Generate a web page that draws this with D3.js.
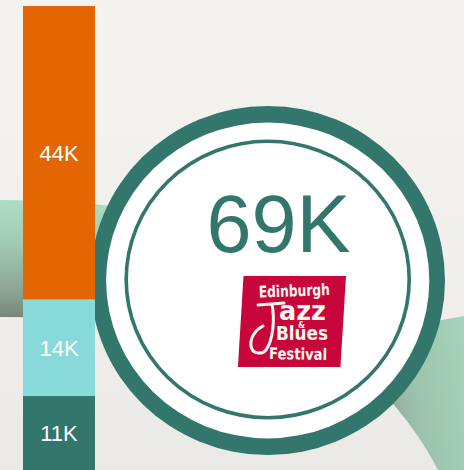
<!DOCTYPE html>
<html>
<head>
<meta charset="utf-8">
<script src="https://cdn.jsdelivr.net/npm/d3@7"></script>
<style>
  html, body { margin: 0; padding: 0; background: #F3F1ED; }
  svg { display: block; }
</style>
</head>
<body>
<div id="chart"></div>
<script>
// ---- data ----
const segments = ["Segment A", "Segment B", "Segment C"];   // bottom to top
const segmentValues = [11.0, 14.4, 43.6];                     // thousands
const segmentLabels = ["11K", "14K", "44K"];
const totalLabel = "69K";
const logoLines = ["Edinburgh", "azz", "&", "Blues", "Festival"];

// ---- styles ----
const segmentColors = ["#32766C", "#88D9DA", "#E36602"];
const teal = "#32766C";
const W = 464, H = 470;

const svg = d3.select("#chart").append("svg")
  .attr("width", W).attr("height", H);

const defs = svg.append("defs");
const bg = defs.append("linearGradient").attr("id", "bg")
  .attr("x1", 0).attr("y1", 0).attr("x2", 0).attr("y2", 1);
bg.append("stop").attr("offset", "0%").attr("stop-color", "#F5F3EF");
bg.append("stop").attr("offset", "60%").attr("stop-color", "#F1EFEB");
bg.append("stop").attr("offset", "100%").attr("stop-color", "#EBE9E6");

const gl = defs.append("linearGradient").attr("id", "bandL")
  .attr("x1", 0).attr("y1", 0).attr("x2", 0).attr("y2", 1);
gl.append("stop").attr("offset", "0%").attr("stop-color", "#AEDCC4");
gl.append("stop").attr("offset", "35%").attr("stop-color", "#A2CBB5");
gl.append("stop").attr("offset", "75%").attr("stop-color", "#8DA697");
gl.append("stop").attr("offset", "100%").attr("stop-color", "#768679");

const gr = defs.append("linearGradient").attr("id", "bandR")
  .attr("x1", 0).attr("y1", 0.3).attr("x2", 1).attr("y2", 0);
gr.append("stop").attr("offset", "0%").attr("stop-color", "#8FA797");
gr.append("stop").attr("offset", "40%").attr("stop-color", "#9CC3AD");
gr.append("stop").attr("offset", "100%").attr("stop-color", "#A6D3BB");

// background
svg.append("rect").attr("width", W).attr("height", H).attr("fill", "url(#bg)");

// decorative green ring behind
svg.append("path")
  .attr("d", "M0,200 L60,201 L112,206 L112,318 L0,317 Z")
  .attr("fill", "url(#bandL)");
svg.append("path")
  .attr("d", "M420,324 Q442,320 464,316 L464,470 L438,470 Q420,435 394,405 L370,380 Z")
  .attr("fill", "url(#bandR)");

// circle badge
const cx = 267.7, cy = 280.5;
svg.append("ellipse").attr("cx", cx).attr("cy", cy)
  .attr("rx", 177.3).attr("ry", 174.5).attr("fill", teal);
svg.append("ellipse").attr("cx", cx).attr("cy", cy)
  .attr("rx", 161.6).attr("ry", 157.9).attr("fill", "#FFFFFF");
svg.append("ellipse").attr("cx", cx).attr("cy", cy - 1)
  .attr("rx", 141.5).attr("ry", 138.2)
  .attr("fill", "none").attr("stroke", teal).attr("stroke-width", 3.6);

// total
svg.append("text")
  .attr("x", 278.5).attr("y", 251.7)
  .attr("text-anchor", "middle")
  .attr("font-family", "'Liberation Sans', Arial, sans-serif")
  .attr("font-size", 81)
  .attr("fill", teal)
  .text(totalLabel);

// logo
const logo = svg.append("g");
logo.append("g").attr("transform", "translate(243.5,276) skewX(-3.5)")
  .append("rect").attr("width", 102.5).attr("height", 91).attr("fill", "#C8063B");
const lf = "'DejaVu Sans Condensed','DejaVu Sans',sans-serif";
function logoText(t, x, y, size, len, rot) {
  logo.append("text")
    .attr("x", x).attr("y", y)
    .attr("font-family", lf).attr("font-weight", "bold")
    .attr("font-size", size)
    .attr("fill", "#FFF8F0")
    .attr("textLength", len).attr("lengthAdjust", "spacingAndGlyphs")
    .attr("transform", `rotate(${rot},${x},${y})`)
    .text(t);
}
logoText(logoLines[0], 259, 297.5, 16, 71, -2);
logo.append("path")
  .attr("d", "M258,305 L284,303 M272,304 C275,320 273,340 266,350 C262,355 252,354 251,346 C250,338 255,330 263,326")
  .attr("fill", "none").attr("stroke", "#FFF8F0").attr("stroke-width", 3).attr("stroke-linecap", "round");
logoText(logoLines[1], 279, 320, 26, 47, 0);
logoText(logoLines[2], 298, 328, 8, 7, 0);
logoText(logoLines[3], 276, 340, 20, 52, 0);
logoText(logoLines[4], 269, 359, 16, 58, 1);

// stacked bar
const x = d3.scaleBand().domain(["total"]).range([23, 95]).padding(0);
const y = d3.scaleLinear().domain([0, d3.sum(segmentValues)]).range([470, 6]);
const cum = [0, ...d3.cumsum(segmentValues)];
const rows = segments.map((s, i) => ({ s, v: segmentValues[i], y0: cum[i], y1: cum[i + 1], label: segmentLabels[i], color: segmentColors[i] }));

const bar = svg.append("g");
bar.selectAll("rect").data(rows).join("rect")
  .attr("x", x("total")).attr("width", x.bandwidth())
  .attr("y", d => y(d.y1)).attr("height", d => y(d.y0) - y(d.y1))
  .attr("fill", d => d.color);
bar.selectAll("text").data(rows).join("text")
  .attr("x", x("total") + x.bandwidth() / 2)
  .attr("y", d => (y(d.y0) + y(d.y1)) / 2 + 8)
  .attr("text-anchor", "middle")
  .attr("font-family", "'Liberation Sans', Arial, sans-serif")
  .attr("font-size", 22)
  .attr("fill", "#FFFFFF")
  .text(d => d.label);
</script>
</body>
</html>
